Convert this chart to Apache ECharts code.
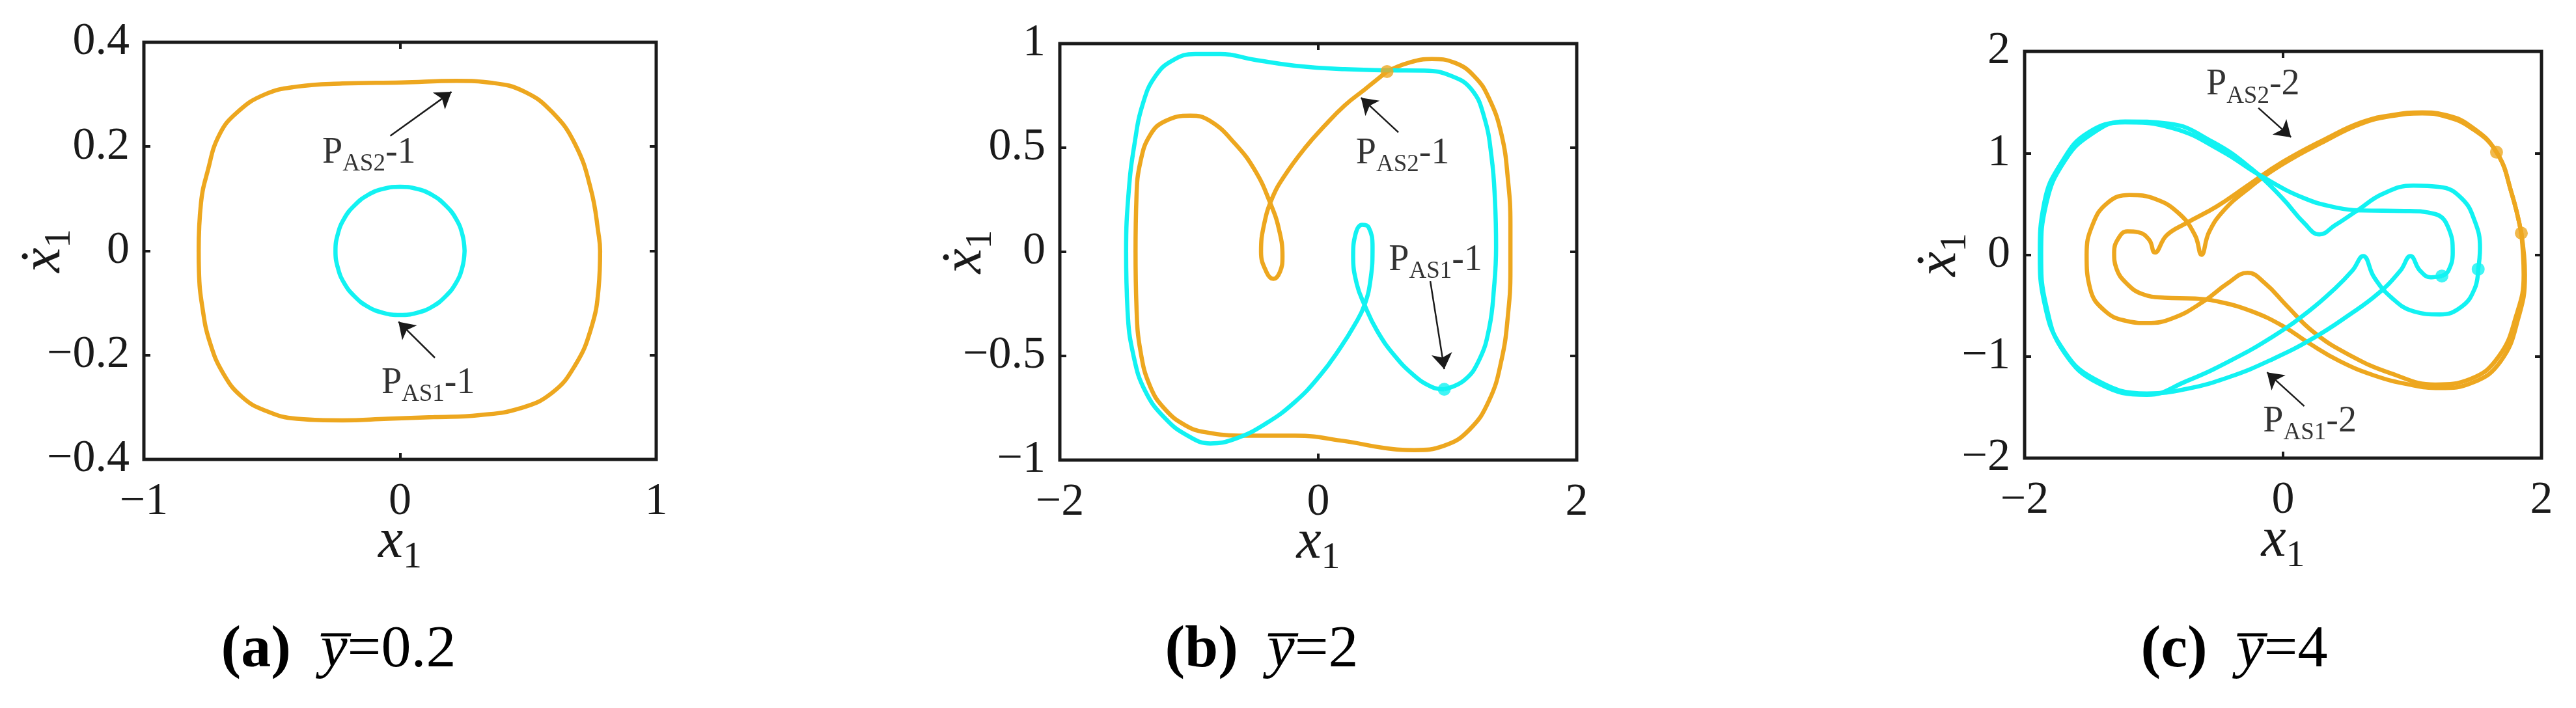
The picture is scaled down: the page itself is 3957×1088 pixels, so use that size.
<!DOCTYPE html>
<html><head><meta charset="utf-8">
<script src="https://cdn.jsdelivr.net/npm/echarts@6/dist/echarts.min.js"></script>
<style>html,body{margin:0;padding:0;background:#fff}#c{width:3957px;height:1088px}
.pre{position:absolute;left:-999px;top:0;font-family:'Liberation Serif';}</style>
</head><body><div class="pre">x<i>x</i><b>x</b></div><div id="c"></div>
<script>
// ---------------- DATA ----------------
// Tick values
const tickA_x = [-1, 0, 1];
const tickA_y = [-0.4, -0.2, 0, 0.2, 0.4];
const tickB_x = [-2, 0, 2];
const tickB_y = [-1, -0.5, 0, 0.5, 1];
const tickC_x = [-2, 0, 2];
const tickC_y = [-2, -1, 0, 1, 2];

// Panel (a)  ybar = 0.2
const aOrange = [[-0.786,0.000],[-0.777,0.092],[-0.751,0.153],[-0.706,0.222],[-0.635,0.266],[-0.528,0.300],[-0.403,0.315],[-0.225,0.321],[0.006,0.323],[0.220,0.326],[0.362,0.322],[0.487,0.305],[0.594,0.266],[0.683,0.205],[0.745,0.118],[0.775,0.032],[0.781,0.000],[0.775,-0.072],[0.745,-0.150],[0.683,-0.220],[0.594,-0.272],[0.469,-0.302],[0.309,-0.315],[0.131,-0.319],[-0.047,-0.322],[-0.225,-0.325],[-0.403,-0.322],[-0.528,-0.306],[-0.617,-0.280],[-0.688,-0.237],[-0.742,-0.176],[-0.772,-0.107],[-0.785,-0.038],[-0.786,0.000]];
const aCyan = [[0.252,0],[0.243,0.032],[0.218,0.062],[0.178,0.087],[0.126,0.107],[0.065,0.119],[0,0.123],[-0.065,0.119],[-0.126,0.107],[-0.178,0.087],[-0.218,0.062],[-0.243,0.032],[-0.252,0],[-0.243,-0.032],[-0.218,-0.062],[-0.178,-0.087],[-0.126,-0.107],[-0.065,-0.119],[0,-0.123],[0.065,-0.119],[0.126,-0.107],[0.178,-0.087],[0.218,-0.062],[0.243,-0.032],[0.252,0]];
const aMarkO = [];
const aMarkC = [];
const aArrows = [[[-0.038,0.2205],[0.201,0.305]],[[0.136,-0.205],[-0.006,-0.136]]];
const aLabels = [[-0.305,0.183,'AS2','1'],[-0.074,-0.259,'AS1','1']];

// Panel (b)  ybar = 2
const bOrange = [[0.532,0.866],[0.705,0.909],[0.879,0.926],[1.052,0.909],[1.206,0.844],[1.322,0.736],[1.418,0.563],[1.468,0.346],[1.487,0.130],[1.487,-0.087],[1.468,-0.303],[1.418,-0.519],[1.322,-0.714],[1.168,-0.855],[0.975,-0.931],[0.744,-0.952],[0.513,-0.942],[0.204,-0.909],[-0.181,-0.883],[-0.566,-0.883],[-0.875,-0.866],[-1.029,-0.833],[-1.183,-0.758],[-1.299,-0.649],[-1.376,-0.476],[-1.407,-0.260],[-1.414,0.000],[-1.407,0.260],[-1.376,0.433],[-1.299,0.563],[-1.183,0.628],[-0.990,0.654],[-0.836,0.628],[-0.644,0.519],[-0.489,0.390],[-0.374,0.238],[-0.304,0.108],[-0.277,-0.022],[-0.297,-0.097],[-0.347,-0.130],[-0.401,-0.097],[-0.443,0.000],[-0.420,0.130],[-0.355,0.260],[-0.258,0.368],[-0.104,0.498],[0.050,0.606],[0.204,0.703],[0.358,0.779],[0.532,0.866]];
const bCyan = [[0.975,-0.660],[1.129,-0.617],[1.245,-0.519],[1.322,-0.368],[1.360,-0.173],[1.376,0.022],[1.368,0.238],[1.341,0.455],[1.283,0.649],[1.187,0.779],[1.033,0.844],[0.821,0.870],[0.551,0.872],[0.204,0.877],[-0.181,0.894],[-0.489,0.922],[-0.759,0.950],[-0.952,0.950],[-1.125,0.920],[-1.260,0.844],[-1.356,0.714],[-1.422,0.519],[-1.468,0.281],[-1.487,0.000],[-1.476,-0.281],[-1.430,-0.498],[-1.337,-0.671],[-1.183,-0.801],[-1.010,-0.883],[-0.836,-0.920],[-0.644,-0.898],[-0.412,-0.827],[-0.181,-0.721],[0.012,-0.595],[0.166,-0.465],[0.281,-0.351],[0.358,-0.255],[0.405,-0.130],[0.420,0.022],[0.389,0.119],[0.339,0.130],[0.289,0.087],[0.270,-0.022],[0.297,-0.152],[0.358,-0.255],[0.455,-0.379],[0.590,-0.498],[0.744,-0.595],[0.879,-0.649],[0.975,-0.660]];
const bMarkO = [[0.532,0.866]];
const bMarkC = [[0.975,-0.660]];
const bArrows = [[[0.620,0.574],[0.331,0.740]],[[0.867,-0.141],[0.975,-0.563]]];
const bLabels = [[0.289,0.459,'AS2','1'],[0.543,-0.054,'AS1','1']];

// Panel (c)  ybar = 4
const cOrange1 = [[1.844,0.213],[1.770,0.600],[1.652,1.009],[1.449,1.253],[1.246,1.364],[1.077,1.391],[0.840,1.364],[0.604,1.289],[0.333,1.124],[-0.005,0.889],[-0.275,0.644],[-0.462,0.431],[-0.573,0.222],[-0.631,0.000],[-0.681,0.191],[-0.800,0.400],[-0.986,0.547],[-1.189,0.587],[-1.358,0.511],[-1.476,0.289],[-1.520,0.000],[-1.493,-0.333],[-1.375,-0.556],[-1.205,-0.653],[-1.053,-0.671],[-0.850,-0.622],[-0.614,-0.458],[-0.428,-0.280],[-0.275,-0.178],[-0.140,-0.280],[0.029,-0.502],[0.232,-0.756],[0.502,-0.978],[0.840,-1.169],[1.178,-1.276],[1.449,-1.222],[1.669,-1.000],[1.804,-0.600],[1.862,-0.200],[1.844,0.213]];
const cOrange2 = [[1.844,0.213],[1.770,0.600],[1.652,1.009],[1.449,1.267],[1.246,1.378],[1.077,1.400],[0.840,1.373],[0.604,1.302],[0.333,1.142],[-0.005,0.911],[-0.275,0.680],[-0.512,0.476],[-0.749,0.311],[-0.901,0.191],[-0.992,0.022],[-1.036,0.147],[-1.121,0.222],[-1.205,0.231],[-1.273,0.164],[-1.307,0.022],[-1.290,-0.133],[-1.205,-0.289],[-1.087,-0.387],[-0.918,-0.422],[-0.681,-0.431],[-0.478,-0.467],[-0.242,-0.556],[-0.005,-0.698],[0.198,-0.867],[0.435,-1.044],[0.705,-1.187],[0.975,-1.276],[1.212,-1.311],[1.466,-1.258],[1.686,-1.044],[1.821,-0.622],[1.872,-0.200],[1.844,0.213]];
const cCyan1 = [[1.510,-0.142],[1.483,-0.333],[1.381,-0.511],[1.212,-0.587],[1.009,-0.556],[0.840,-0.422],[0.705,-0.222],[0.620,-0.013],[0.536,-0.156],[0.401,-0.333],[0.198,-0.556],[-0.073,-0.800],[-0.411,-1.044],[-0.749,-1.244],[-1.053,-1.378],[-1.425,-1.267],[-1.696,-0.956],[-1.831,-0.511],[-1.872,0.000],[-1.831,0.511],[-1.696,0.911],[-1.493,1.178],[-1.223,1.311],[-0.884,1.289],[-0.546,1.111],[-0.242,0.844],[-0.005,0.556],[0.164,0.311],[0.282,0.200],[0.401,0.289],[0.570,0.431],[0.773,0.600],[1.009,0.680],[1.212,0.667],[1.381,0.556],[1.483,0.333],[1.524,0.067],[1.510,-0.142]];
const cCyan2 = [[1.229,-0.209],[1.145,-0.222],[1.060,-0.156],[0.986,-0.013],[0.908,-0.156],[0.739,-0.378],[0.502,-0.600],[0.232,-0.822],[-0.073,-1.022],[-0.411,-1.200],[-0.749,-1.320],[-1.053,-1.364],[-1.459,-1.222],[-1.713,-0.911],[-1.848,-0.467],[-1.882,0.000],[-1.848,0.511],[-1.713,0.911],[-1.510,1.200],[-1.223,1.302],[-0.850,1.244],[-0.478,1.022],[-0.174,0.778],[0.164,0.556],[0.435,0.458],[0.604,0.436],[0.942,0.431],[1.178,0.400],[1.286,0.244],[1.313,0.022],[1.280,-0.156],[1.229,-0.209]];
const cMarkO = [[1.652,1.009],[1.844,0.213]];
const cMarkC = [[1.510,-0.142],[1.229,-0.209]];
const cArrows = [[[-0.191,1.444],[0.062,1.156]],[[0.164,-1.489],[-0.124,-1.156]]];
const cLabels = [[-0.597,1.644,'AS2','2'],[-0.157,-1.667,'AS1','2']];

const titles = [['(a)','0.2'],['(b)','2'],['(c)','4']];

// ---------------- LAYOUT / STYLE ----------------
const FONT = "'Liberation Serif', 'Times New Roman', serif";
const ORANGE = '#EDA71F';
const CYAN = '#12F2F2';
const INK = '#1a1a1a';
const layout = [
  {left:221, top:65, width:787, height:641, yNameGap:100, tx:520},
  {left:1628, top:67, width:794, height:640, yNameGap:92, tx:1938},
  {left:3110, top:79, width:794, height:625, yNameGap:77, tx:3432}
];
const panels = [
  {tx:tickA_x, ty:tickA_y, orange:[aOrange], cyan:[aCyan], mO:aMarkO, mC:aMarkC, arrows:aArrows, labels:aLabels},
  {tx:tickB_x, ty:tickB_y, orange:[bOrange], cyan:[bCyan], mO:bMarkO, mC:bMarkC, arrows:bArrows, labels:bLabels},
  {tx:tickC_x, ty:tickC_y, orange:[cOrange1,cOrange2], cyan:[cCyan1,cCyan2], mO:cMarkO, mC:cMarkC, arrows:cArrows, labels:cLabels}
];

function render() {
const fmt = v => { const r = Math.round(v*100)/100; return (r < 0 ? '\u2212' : '') + Math.abs(r); };
const nameRich = {
  i:{fontFamily:FONT, fontStyle:'italic', fontSize:86, lineHeight:96, verticalAlign:'top', color:INK},
  s:{fontFamily:FONT, fontSize:58, lineHeight:46, verticalAlign:'bottom', color:INK}
};
const tickStyle = {show:true, inside:true, length:10, lineStyle:{color:INK, width:4}};
const noLine = {show:false, onZero:false};

const grid = [], xAxis = [], yAxis = [], series = [], graphic = [];
panels.forEach((p, i) => {
  const L = layout[i];
  grid.push({left:L.left, top:L.top, width:L.width, height:L.height, show:true,
    borderColor:INK, borderWidth:5, backgroundColor:'transparent', outerBoundsMode:'none', containLabel:false});
  const xr = {min:p.tx[0], max:p.tx[p.tx.length-1], interval:p.tx[1]-p.tx[0]};
  const yr = {min:p.ty[0], max:p.ty[p.ty.length-1], interval:p.ty[1]-p.ty[0]};
  xAxis.push(Object.assign({type:'value', gridIndex:i, position:'bottom', splitLine:{show:false},
    axisLine:noLine, axisTick:tickStyle,
    axisLabel:{show:true, formatter:fmt, fontFamily:FONT, fontSize:70, color:INK, margin:31, showMinLabel:true, showMaxLabel:true, hideOverlap:false},
    name:'{i|x}{s|1}', nameLocation:'middle', nameGap:84, nameMoveOverlap:false, nameTextStyle:{rich:nameRich}}, xr));
  xAxis.push(Object.assign({type:'value', gridIndex:i, position:'top', splitLine:{show:false},
    axisLine:noLine, axisTick:tickStyle, axisLabel:{show:false}}, xr));
  yAxis.push(Object.assign({type:'value', gridIndex:i, position:'left', splitLine:{show:false},
    axisLine:noLine, axisTick:tickStyle,
    axisLabel:{show:true, formatter:fmt, fontFamily:FONT, fontSize:70, color:INK, margin:22, showMinLabel:true, showMaxLabel:true, hideOverlap:false},
    name:'{i|x\u0307}{s|1}', nameLocation:'middle', nameRotate:90, nameGap:L.yNameGap, nameMoveOverlap:false, nameTextStyle:{rich:nameRich}}, yr));
  yAxis.push(Object.assign({type:'value', gridIndex:i, position:'right', splitLine:{show:false},
    axisLine:noLine, axisTick:tickStyle, axisLabel:{show:false}}, yr));
  const xi = 2*i, yi = 2*i;
  p.orange.forEach(d => series.push({type:'line', xAxisIndex:xi, yAxisIndex:yi, data:d, showSymbol:false,
    smooth:0.45, lineStyle:{color:ORANGE, width:6.5}, z:2, silent:true}));
  p.cyan.forEach(d => series.push({type:'line', xAxisIndex:xi, yAxisIndex:yi, data:d, showSymbol:false,
    smooth:0.45, lineStyle:{color:CYAN, width:6.5}, z:3, silent:true}));
  if (p.mO.length) series.push({type:'scatter', xAxisIndex:xi, yAxisIndex:yi, data:p.mO, symbolSize:20, itemStyle:{color:ORANGE}, z:5});
  if (p.mC.length) series.push({type:'scatter', xAxisIndex:xi, yAxisIndex:yi, data:p.mC, symbolSize:20, itemStyle:{color:CYAN}, z:5});
  series.push({type:'lines', coordinateSystem:'cartesian2d', xAxisIndex:xi, yAxisIndex:yi,
    data:p.arrows.map(a => ({coords:a})), symbol:['none','arrow'], symbolSize:[0,24],
    lineStyle:{color:INK, width:2.5, opacity:1}, z:6, silent:true});
  series.push({type:'scatter', xAxisIndex:xi, yAxisIndex:yi, symbolSize:1, itemStyle:{color:'rgba(0,0,0,0)'}, z:7,
    data:p.labels.map(l => ({value:[l[0], l[1]], label:{formatter:'{p|P}{s|' + l[2] + '}{p|-' + l[3] + '}'}})),
    label:{show:true, position:'right', distance:0, color:INK,
      rich:{p:{fontFamily:FONT, fontSize:56, lineHeight:64, verticalAlign:'top', color:'#000'},
            s:{fontFamily:FONT, fontSize:37, lineHeight:36, verticalAlign:'bottom', color:'#000'}}}});
  graphic.push({type:'text', x:L.tx, y:1000, silent:true,
    style:{text:'{b|' + titles[i][0] + '}{n|  }{i|y\u0305}{n|=' + titles[i][1] + '}', align:'center', verticalAlign:'middle',
      rich:{b:{fontFamily:FONT, fontWeight:'bold', fontSize:92, fill:'#000', color:'#000'},
            i:{fontFamily:FONT, fontStyle:'italic', fontSize:92, fill:'#000', color:'#000'},
            n:{fontFamily:FONT, fontSize:92, fill:'#000', color:'#000'}}}});
});

const chart = echarts.init(document.getElementById('c'), null, {renderer:'canvas', width:3957, height:1088});
chart.setOption({animation:false, backgroundColor:'#fff', grid, xAxis, yAxis, series, graphic});
}
if (document.fonts && document.fonts.load) {
  Promise.all([document.fonts.load("68px 'Liberation Serif'"), document.fonts.load("italic 68px 'Liberation Serif'"), document.fonts.load("bold 68px 'Liberation Serif'")])
    .then(render, render);
} else { render(); }
</script>
</body></html>
